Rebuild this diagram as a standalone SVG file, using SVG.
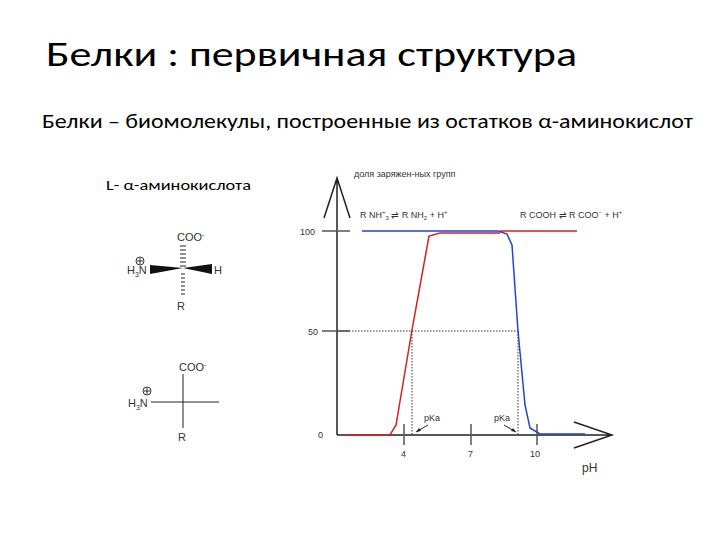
<svg xmlns="http://www.w3.org/2000/svg" width="720" height="540" viewBox="0 0 720 540">
<style>
.t{font-family:Calibri,"Open Sans","Liberation Sans",sans-serif;fill:#000}
.s{font-family:"Liberation Sans",Arial,sans-serif;fill:#333}
.ax{stroke:#222;stroke-width:1.5;fill:none}
.tk{stroke:#555;stroke-width:1.5}
.dot{stroke:#333;stroke-width:1;stroke-dasharray:1.5,1.5;fill:none}
</style>
<rect width="720" height="540" fill="#fff"/>
<text class="t" x="46" y="66" font-size="34" textLength="531" lengthAdjust="spacingAndGlyphs">Белки : первичная структура</text>
<text class="t" x="42" y="128" font-size="20" textLength="651" lengthAdjust="spacingAndGlyphs">Белки – биомолекулы, построенные из остатков α-аминокислот</text>
<text class="t" x="106" y="190" font-size="14" textLength="145" lengthAdjust="spacingAndGlyphs">L- α-аминокислота</text>
<g id="mol1" class="s">
<text x="177" y="241" font-size="11">COO<tspan font-size="7" dy="-4">-</tspan></text>
<path d="M180,246h6M180,250h6M180,254h6M180,258h6M180,262h6M180,266h6M181,274h4M181,278h4M181,282h4M181,286h4M181,290h4M181,294h4" stroke="#222" stroke-width="1"/>
<polygon points="150,265 183,268 150,274" fill="#111"/>
<polygon points="183,268 212,264 212,274" fill="#111"/>
<text x="127" y="274" font-size="11">H<tspan font-size="7" dy="3">3</tspan><tspan dy="-3">N</tspan></text>
<circle cx="140" cy="261" r="4" fill="none" stroke="#333"/><path d="M137,261h6M140,258v6" stroke="#333"/>
<text x="214" y="274" font-size="11">H</text>
<text x="177" y="310" font-size="11">R</text>
</g>
<g id="mol2" class="s">
<text x="179" y="371" font-size="11">COO<tspan font-size="7" dy="-4">-</tspan></text>
<path d="M183,374V428M151,402H219" stroke="#222" stroke-width="1"/>
<text x="128" y="407" font-size="11">H<tspan font-size="7" dy="3">3</tspan><tspan dy="-3">N</tspan></text>
<circle cx="147" cy="391" r="4" fill="none" stroke="#333"/><path d="M144,391h6M147,388v6" stroke="#333"/>
<text x="178" y="441" font-size="11">R</text>
</g>
<g id="chart">
<path class="ax" d="M337,435V178M324,218L337,178L350,218M337,435H610M574,422L612,435L574,448"/>
<path class="tk" d="M322,231H350M322,331H350M404,424V445M471,424V445M537,424V445"/>
<text class="s" x="300" y="235" font-size="9">100</text>
<text class="s" x="308" y="335" font-size="9">50</text>
<text class="s" x="318" y="438" font-size="9">0</text>
<text class="s" x="401" y="457" font-size="9">4</text>
<text class="s" x="468" y="457" font-size="9">7</text>
<text class="s" x="530" y="457" font-size="9">10</text>
<text class="s" x="582" y="472" font-size="12">pH</text>
<text class="s" x="354" y="177" font-size="9">доля заряжен-ных групп</text>
<text class="s" x="360" y="218" font-size="9">R NH<tspan font-size="6" dy="-4">+</tspan><tspan font-size="6" dy="6">3</tspan><tspan dy="-2"> ⇌ R NH</tspan><tspan font-size="6" dy="2">2</tspan><tspan dy="-2"> + H</tspan><tspan font-size="6" dy="-4">+</tspan></text>
<text class="s" x="520" y="218" font-size="9">R COOH ⇌ R COO<tspan font-size="6" dy="-4">−</tspan><tspan dy="4"> + H</tspan><tspan font-size="6" dy="-4">+</tspan></text>
<path class="dot" d="M337,331H518M412,331V434M518,331V434"/>
<path d="M345,435H390L396,425L412,330L429,236L440,233H500M500,231H577" fill="none" stroke="#d42020" stroke-width="1.5"/>
<path d="M362,231H498L507,234L512,245L518,331L525,405L530,428L540,434H585" fill="none" stroke="#2244cc" stroke-width="1.5"/>
<text class="s" x="424" y="421" font-size="9">pKa</text>
<text class="s" x="494" y="421" font-size="9">pKa</text>
<path d="M428,425L416,432M504,425L516,432" stroke="#222" stroke-width="1"/>
<path d="M416,432l3,-4l2,3zM516,432l-5,-1l2,-3z" fill="#222"/>
</g>
</svg>
